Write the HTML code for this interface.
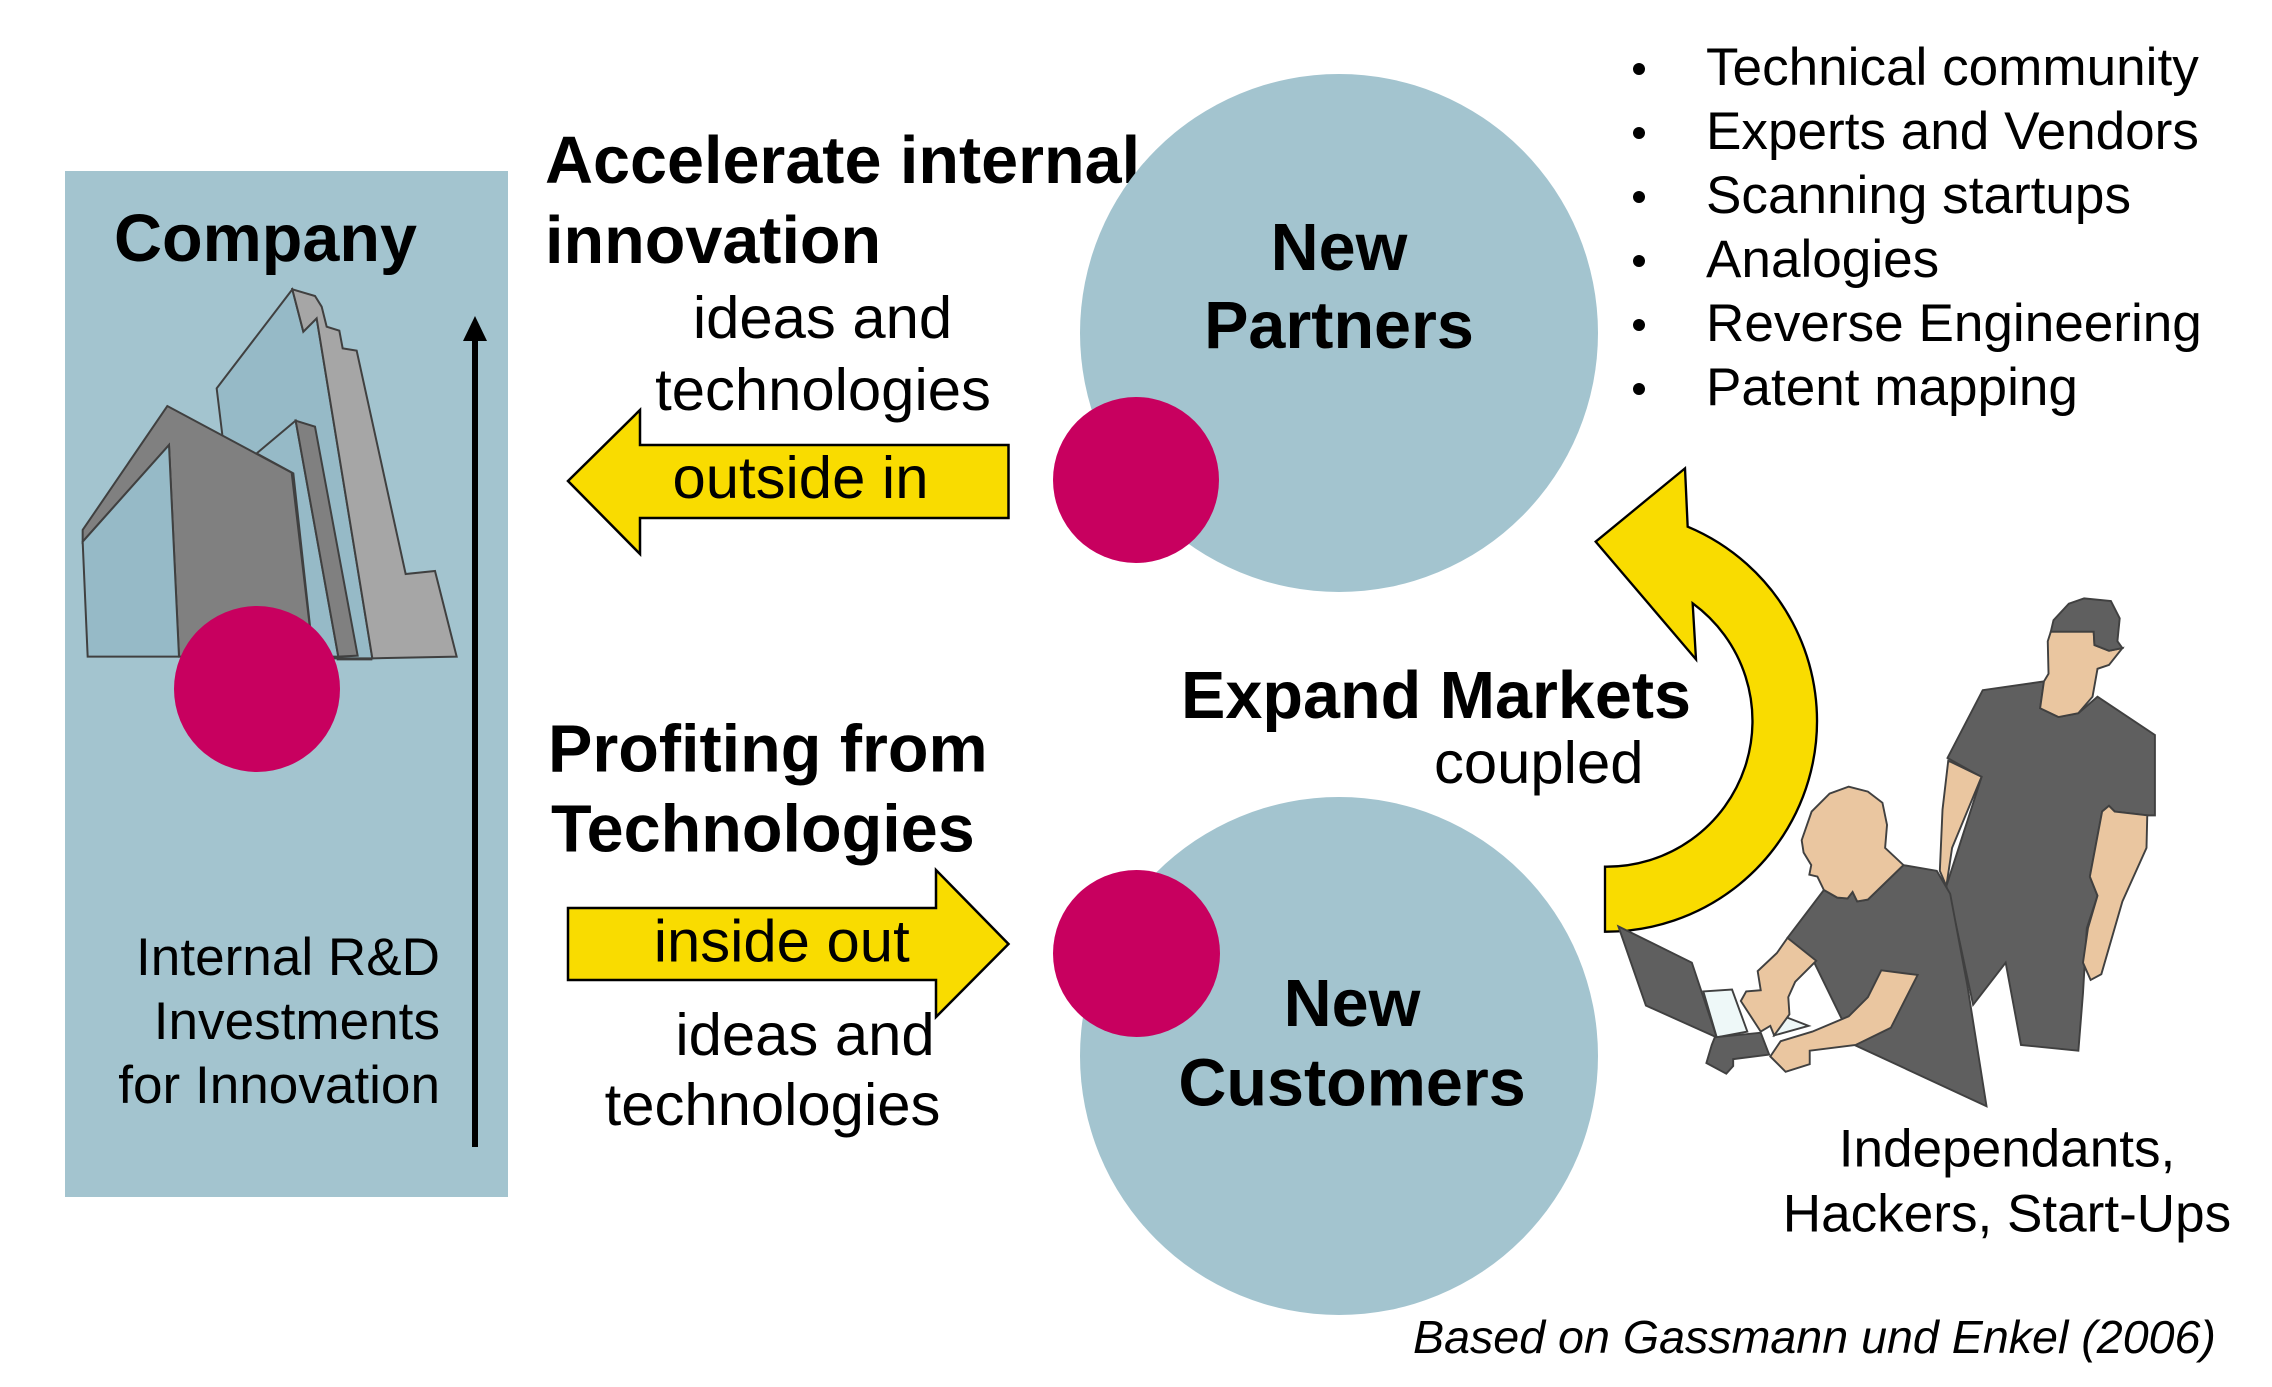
<!DOCTYPE html>
<html>
<head>
<meta charset="utf-8">
<style>
html,body{margin:0;padding:0;background:#fff;}
svg{display:block;}
text{font-family:"Liberation Sans",Arial,sans-serif;fill:#000;}
.b{font-weight:bold;font-size:66.5px;}
.r{font-size:59.8px;}
.s{font-size:53.1px;}
</style>
</head>
<body>
<svg width="2272" height="1387" viewBox="0 0 2272 1387" xmlns="http://www.w3.org/2000/svg">
<rect x="0" y="0" width="2272" height="1387" fill="#fff"/>

<!-- Company panel -->
<rect x="65" y="171" width="443" height="1026" fill="#a3c4cf"/>
<text class="b" x="114" y="261">Company</text>

<!-- building -->
<g transform="translate(60,270) scale(0.33333)" stroke="#404040" stroke-width="6" stroke-linejoin="miter">
  <polygon points="470,355 697,58 730,185 770,145 937,1165 600,1165 487,495" fill="#96bac7"/>
  <polygon points="697,58 765,78 785,110 800,170 838,182 848,235 890,242 1037,912 1125,903 1190,1160 937,1165 770,145 730,185" fill="#a6a6a6"/>
  <polyline points="830,1168 937,1168" fill="none"/>
  <polygon points="590,550 707,452 835,1160 760,1160 700,610" fill="#96bac7"/>
  <polygon points="707,452 765,470 893,1157 835,1160" fill="#808080"/>
  <polygon points="68,780 322,408 695,608 760,1160 357,1160 327,525 68,815" fill="#808080"/>
  <polygon points="68,815 327,525 357,1160 83,1160" fill="#96bac7"/>
</g>
<circle cx="257" cy="689" r="83" fill="#c8005f"/>

<!-- vertical arrow -->
<rect x="472" y="338" width="6" height="809" fill="#000"/>
<polygon points="475,316 463,341 487,341" fill="#000"/>

<text class="s" text-anchor="end" x="440" y="975">Internal R&amp;D</text>
<text class="s" text-anchor="end" x="440" y="1039">Investments</text>
<text class="s" text-anchor="end" x="440" y="1103">for Innovation</text>

<!-- top middle texts -->
<text class="b" x="545" y="183">Accelerate internal</text>
<text class="b" x="545" y="263">innovation</text>
<text class="r" text-anchor="middle" x="822.5" y="338">ideas and</text>
<text class="r" text-anchor="middle" x="823" y="410">technologies</text>

<polygon points="568,481 640,410 640,445 1008.5,445 1008.5,518 640,518 640,554" fill="#f9dc00" stroke="#000" stroke-width="2.5" stroke-linejoin="miter"/>
<text class="r" text-anchor="middle" x="800.5" y="498">outside in</text>

<!-- bottom middle texts -->
<text class="b" x="548" y="771.5">Profiting from</text>
<text class="b" x="551" y="851.5">Technologies</text>
<polygon points="568,908 936,908 936,870 1008.5,944 936,1017 936,980 568,980" fill="#f9dc00" stroke="#000" stroke-width="2.5" stroke-linejoin="miter"/>
<text class="r" text-anchor="middle" x="781.7" y="961.5">inside out</text>
<text class="r" text-anchor="middle" x="805" y="1055">ideas and</text>
<text class="r" text-anchor="middle" x="772.5" y="1125">technologies</text>

<!-- circles -->
<circle cx="1339" cy="333" r="259" fill="#a3c4cf"/>
<circle cx="1136" cy="480" r="83" fill="#c8005f"/>
<text class="b" text-anchor="middle" x="1339" y="270">New</text>
<text class="b" text-anchor="middle" x="1339" y="348">Partners</text>

<circle cx="1339" cy="1056" r="259" fill="#a3c4cf"/>
<circle cx="1136.5" cy="953.5" r="83.5" fill="#c8005f"/>
<text class="b" text-anchor="middle" x="1352" y="1026">New</text>
<text class="b" text-anchor="middle" x="1352" y="1105.5">Customers</text>

<!-- Expand markets -->
<text class="b" x="1181" y="718">Expand Markets</text>
<text class="r" x="1434" y="783">coupled</text>

<!-- curved arrow -->
<g transform="translate(1560,450) scale(0.33333)">
  <path d="M375,55 L383,230 A632,632 0 0 1 135,1445 L135,1250 A437,437 0 0 0 398,460 L408,628 L107,275 Z" fill="#f9dc00" stroke="#000" stroke-width="7" stroke-linejoin="miter"/>
</g>

<!-- bullet list -->
<g>
  <circle cx="1639" cy="69" r="6" fill="#000"/>
  <circle cx="1639" cy="133" r="6" fill="#000"/>
  <circle cx="1639" cy="197" r="6" fill="#000"/>
  <circle cx="1639" cy="261" r="6" fill="#000"/>
  <circle cx="1639" cy="325" r="6" fill="#000"/>
  <circle cx="1639" cy="389" r="6" fill="#000"/>
  <text class="s" x="1706" y="85">Technical community</text>
  <text class="s" x="1706" y="149">Experts and Vendors</text>
  <text class="s" x="1706" y="213">Scanning startups</text>
  <text class="s" x="1706" y="277">Analogies</text>
  <text class="s" x="1706" y="341">Reverse Engineering</text>
  <text class="s" x="1706" y="405">Patent mapping</text>
</g>

<!-- people -->
<g transform="translate(1600,580) scale(0.3827)" stroke="#404040" stroke-width="5" stroke-linejoin="miter">
  <!-- standing man -->
  <polygon points="1000,288 1160,265 1150,335 1198,358 1250,348 1300,305 1450,405 1450,615 1430,615 1345,605 1330,590 1312,605 1280,775 1300,825 1272,910 1262,1080 1250,1230 1100,1215 1060,1000 975,1110 930,900 905,800 997,515 908,465" fill="#5f5f5f"/>
  <polygon points="910,472 997,514 920,700 905,800 888,760 895,600" fill="#eac6a0"/>
  <polygon points="1345,605 1430,615 1428,700 1365,840 1310,1030 1282,1045 1262,1000 1275,910 1300,825 1280,775 1312,605 1330,590" fill="#eac6a0"/>
  <polygon points="1178,135 1290,135 1292,170 1330,185 1365,178 1330,222 1300,232 1287,305 1250,348 1198,358 1150,335 1160,265 1172,245 1170,160" fill="#eac6a0"/>
  <polygon points="1178,135 1185,105 1225,62 1265,48 1335,55 1358,100 1352,160 1365,178 1330,185 1292,170 1290,135" fill="#5f5f5f"/>
  <!-- laptop -->
  <polygon points="48,905 240,1000 305,1195 120,1112" fill="#5f5f5f"/>
  <polygon points="270,1075 345,1070 385,1180 305,1195" fill="#eef8f8"/>
  <polygon points="480,1140 545,1165 455,1190" fill="#eef8f8"/>
  <polygon points="300,1195 420,1183 442,1240 348,1252 348,1270 330,1290 278,1262 292,1215" fill="#5f5f5f"/>
  <!-- seated man -->
  <polygon points="490,935 585,810 620,830 647,832 660,815 672,840 700,835 793,745 880,760 915,820 960,1060 1010,1375 665,1215 560,1000" fill="#5f5f5f"/>
  <polygon points="650,540 700,553 738,582 750,640 745,700 793,745 700,835 672,840 660,815 647,832 620,830 585,810 568,775 547,770 552,745 532,712 527,680 553,605 600,558" fill="#eac6a0"/>
  <polygon points="490,935 565,995 510,1050 492,1090 495,1135 455,1190 445,1165 420,1180 368,1100 382,1075 420,1072 412,1022 462,975" fill="#eac6a0"/>
  <polygon points="735,1020 830,1032 760,1170 668,1215 548,1230 548,1265 485,1285 445,1245 472,1205 555,1180 650,1140 700,1090" fill="#eac6a0"/>
</g>

<text class="s" text-anchor="middle" x="2007" y="1166.5">Independants,</text>
<text class="s" text-anchor="middle" x="2007" y="1231.5">Hackers, Start-Ups</text>

<text x="1413" y="1353" style="font-size:46.6px;font-style:italic;">Based on Gassmann und Enkel (2006)</text>
</svg>
</body>
</html>
